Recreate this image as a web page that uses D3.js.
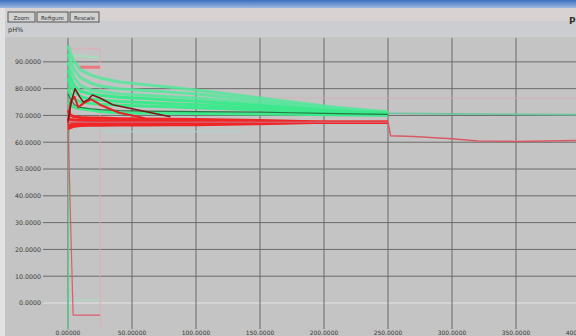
<!DOCTYPE html>
<html><head><meta charset="utf-8">
<script src="https://cdn.jsdelivr.net/npm/d3@7"></script>
<style>html,body{margin:0;padding:0;background:#c4c4c4;overflow:hidden}svg{display:block}</style>
</head><body>
<svg id="chart" width="576" height="336"></svg>
<script>
// ---------- data ----------
const yTicks = [0, 10, 20, 30, 40, 50, 60, 70, 80, 90];
const yTickLabels = ["0.0000","10.0000","20.0000","30.0000","40.0000","50.0000","60.0000","70.0000","80.0000","90.0000"];
const xTicks = [0, 50, 100, 150, 200, 250, 300, 350, 400];
const xTickLabels = ["0.00000","50.00000","100.0000","150.0000","200.0000","250.0000","300.0000","350.0000","400.0000"];
const buttonLabels = ["Zoom","Refigure","Rescale"];
const yTitle = "pH%";

// shared time grid for the ensemble traces
const times = [0, 2, 5, 10, 18, 25, 40, 60, 80, 100, 125, 150, 175, 200, 225, 250];
const green1 = [96, 93, 90, 87, 85, 84, 82.5, 81.5, 80.5, 79.5, 78, 76.5, 75, 73.5, 72.3, 71.4];
const green2 = [93, 90, 87, 84, 82, 81, 80, 79.3, 78.7, 78, 76.8, 75.5, 74.2, 73, 72, 71.2];
const green3 = [90, 87, 84, 81, 79.5, 79, 78, 77.5, 77, 76.5, 75.5, 74.5, 73.5, 72.5, 71.6, 71];
const green4 = [87, 84, 81, 79, 78, 77.5, 76.8, 76.3, 75.8, 75.3, 74.5, 73.7, 72.9, 72, 71.3, 70.8];
const green5 = [84, 81, 79, 77, 76, 75.8, 75.2, 74.8, 74.4, 74, 73.4, 72.8, 72.2, 71.6, 71, 70.6];
const green6 = [80, 78, 76, 75, 74.5, 74.2, 73.8, 73.5, 73.2, 72.9, 72.5, 72, 71.6, 71.2, 70.8, 70.5];
const greenDark = [78, 76, 74, 73, 72.5, 72.2, 71.8, 71.6, 71.5, 71.4, 71.3, 71.2, 71, 70.8, 70.6, 70.4];
const green8 = [75, 74, 73, 72.5, 72, 71.5, 71, 70.9, 70.8, 70.7, 70.6, 70.5, 70.4, 70.3, 70.2, 70.1];
const red1 = [72, 70, 69.5, 69.2, 69, 69, 68.8, 68.7, 68.6, 68.5, 68.3, 68.1, 67.8, 67.5, 67.5, 67.5];
const red2 = [69, 68.5, 68.3, 68.2, 68.1, 68, 68, 67.9, 67.9, 67.8, 67.8, 67.7, 67.6, 67.5, 67.5, 67.5];
const red3 = [66, 66.5, 67, 67, 67.1, 67.1, 67.1, 67.1, 67.1, 67.2, 67.2, 67.3, 67.4, 67.5, 67.5, 67.5];
const red4 = [65, 65.5, 66, 66.2, 66.3, 66.3, 66.4, 66.4, 66.5, 66.5, 66.7, 66.9, 67.2, 67.5, 67.5, 67.5];

// individual traces with their own times
const redLongT = [0, 25, 100, 200, 250, 252, 270, 300, 320, 350, 400];
const redLongV = [67.5, 67.5, 67.5, 67.5, 67.5, 62.4, 62.1, 61.3, 60.5, 60.3, 60.7];
const greenLongT = [250, 300, 350, 400];
const greenLongV = [70.8, 70.6, 70.4, 70.3];
const darkRedT = [0, 3, 5.5, 9, 12, 16, 19, 25, 35, 50, 65, 80];
const darkRedV = [68, 76, 80, 77, 75, 76, 77.6, 76.5, 74, 72.5, 71, 69.5];
const redMT = [0, 2, 5, 8, 12, 18, 22, 25, 40, 60];
const redMV = [67, 75, 77, 73, 74.5, 76, 75, 74, 71, 69];
const greenVertT = [0, 1.2];
const greenVertV = [-10, 95];
const greenLowT = [1.5, 25];
const greenLowV = [1, 1];
const redLowT = [0, 4, 25];
const redLowV = [67, -4.5, -4.5];
const pinkTopT = [0, 25, 25.3];
const pinkTopV = [95, 95, -10];
const red88T = [8, 25];
const red88V = [88, 88];
const greenShortT = [4, 25];
const greenShortV = [92.5, 91.5];
const teal64T = [25, 140];
const teal64V = [64, 64];
const pinkHighT = [150, 400];
const pinkHighV = [76.5, 76.5];

// ---------- drawing ----------
const svg = d3.select("#chart");
const W = 576, H = 336;
const x = d3.scaleLinear().domain([-19.53, 400]).range([43, 580]);
const y = d3.scaleLinear().domain([-9.33, 98.9]).range([328, 38]);

// window chrome
const defs = svg.append("defs");
const grad = defs.append("linearGradient").attr("id","tb").attr("x1",0).attr("y1",0).attr("x2",0).attr("y2",1);
grad.append("stop").attr("offset","0%").attr("stop-color","#3c6fc0");
grad.append("stop").attr("offset","100%").attr("stop-color","#9bb8e0");
svg.append("rect").attr("x",0).attr("y",0).attr("width",W).attr("height",H).attr("fill","#c4c4c4");
svg.append("rect").attr("x",0).attr("y",0).attr("width",W).attr("height",8).attr("fill","url(#tb)");
svg.append("rect").attr("x",0).attr("y",8).attr("width",W).attr("height",13).attr("fill","#d8d2d3");
svg.append("rect").attr("x",0).attr("y",21).attr("width",W).attr("height",16).attr("fill","#cbcdd1");
svg.append("rect").attr("x",0).attr("y",8).attr("width",5).attr("height",H-8).attr("fill","#e2e2e2");

const btnX = [8, 37, 70], btnW = [27, 31, 29];
buttonLabels.forEach((b,i)=>{
  svg.append("rect").attr("x",btnX[i]).attr("y",12).attr("width",btnW[i]).attr("height",10)
    .attr("fill","#d2d2d2").attr("stroke","#555").attr("stroke-width",1);
  svg.append("text").attr("x",btnX[i]+btnW[i]/2).attr("y",19.5).attr("text-anchor","middle")
    .attr("font-family","DejaVu Sans").attr("font-size",5.5).attr("fill","#333").text(b);
});
svg.append("text").attr("x",8).attr("y",32).attr("font-family","DejaVu Sans").attr("font-size",6.5)
  .attr("fill","#333").text(yTitle);
svg.append("text").attr("x",569).attr("y",24).attr("font-family","DejaVu Sans").attr("font-size",9)
  .attr("font-weight","bold").attr("fill","#333").text("P");

// grid
const g = svg.append("g");
g.selectAll(".hg").data(yTicks).join("line")
  .attr("x1",43).attr("x2",W).attr("y1",d=>y(d)).attr("y2",d=>y(d))
  .attr("stroke",d=>d===0?"#e4e4e4":"#6a6a6a").attr("stroke-width",1);
g.selectAll(".vg").data(xTicks).join("line")
  .attr("x1",d=>x(d)).attr("x2",d=>x(d)).attr("y1",38).attr("y2",329)
  .attr("stroke","#6a6a6a").attr("stroke-width",1);

// axes labels
g.selectAll(".yl").data(yTicks).join("text")
  .attr("x",41).attr("y",d=>y(d)+2.3).attr("text-anchor","end")
  .attr("font-family","DejaVu Sans").attr("font-size",6.3).attr("fill","#3a3a3a")
  .text((d,i)=>yTickLabels[i]);
g.selectAll(".xl").data(xTicks).join("text")
  .attr("x",d=>x(d)).attr("y",334.5).attr("text-anchor","middle")
  .attr("font-family","DejaVu Sans").attr("font-size",6).attr("fill","#3a3a3a")
  .text((d,i)=>xTickLabels[i]);

// traces
defs.append("clipPath").attr("id","pc").append("rect").attr("x",43).attr("y",38).attr("width",W-43).attr("height",292);
const plot = svg.append("g").attr("clip-path","url(#pc)");
const line = d3.line().x(d=>x(d[0])).y(d=>y(d[1]));
function trace(t, v, color, w, op){
  plot.append("path").datum(t.map((tt,i)=>[tt, v[i]]))
    .attr("d", line).attr("fill","none").attr("stroke",color)
    .attr("stroke-width",w).attr("stroke-opacity",op===undefined?1:op)
    .attr("stroke-linejoin","round");
}
trace(pinkTopT, pinkTopV, "#e8a8b4", 1.5, 0.6);
trace(pinkHighT, pinkHighV, "#d8b0b8", 2, 0.35);
trace(teal64T, teal64V, "#a8d8d4", 1.5, 0.7);
trace(greenVertT, greenVertV, "#52d890", 1.3, 0.9);
trace(greenLowT, greenLowV, "#a8dcb8", 1.3, 0.8);
trace(redLowT, redLowV, "#e0506a", 1.2, 0.9);
trace(greenShortT, greenShortV, "#9ae8b8", 2, 0.7);
trace(red88T, red88V, "#f07078", 3, 0.9);

[green1, green2, green3].forEach(v=>trace(times, v, "#52e89a", 3, 0.85));
[green4, green5, green6, green8].forEach(v=>trace(times, v, "#3ee88c", 3));
trace(times, greenDark, "#237a42", 1.2);
trace(greenLongT, greenLongV, "#6cc6a0", 1.6);
[red1, red2, red3, red4].forEach(v=>trace(times, v, "#f02626", 3));
trace(redLongT, redLongV, "#d85a66", 1.5);
trace(redMT, redMV, "#e02424", 2);
trace(darkRedT, darkRedV, "#7a1616", 1.5);
</script>
</body></html>
